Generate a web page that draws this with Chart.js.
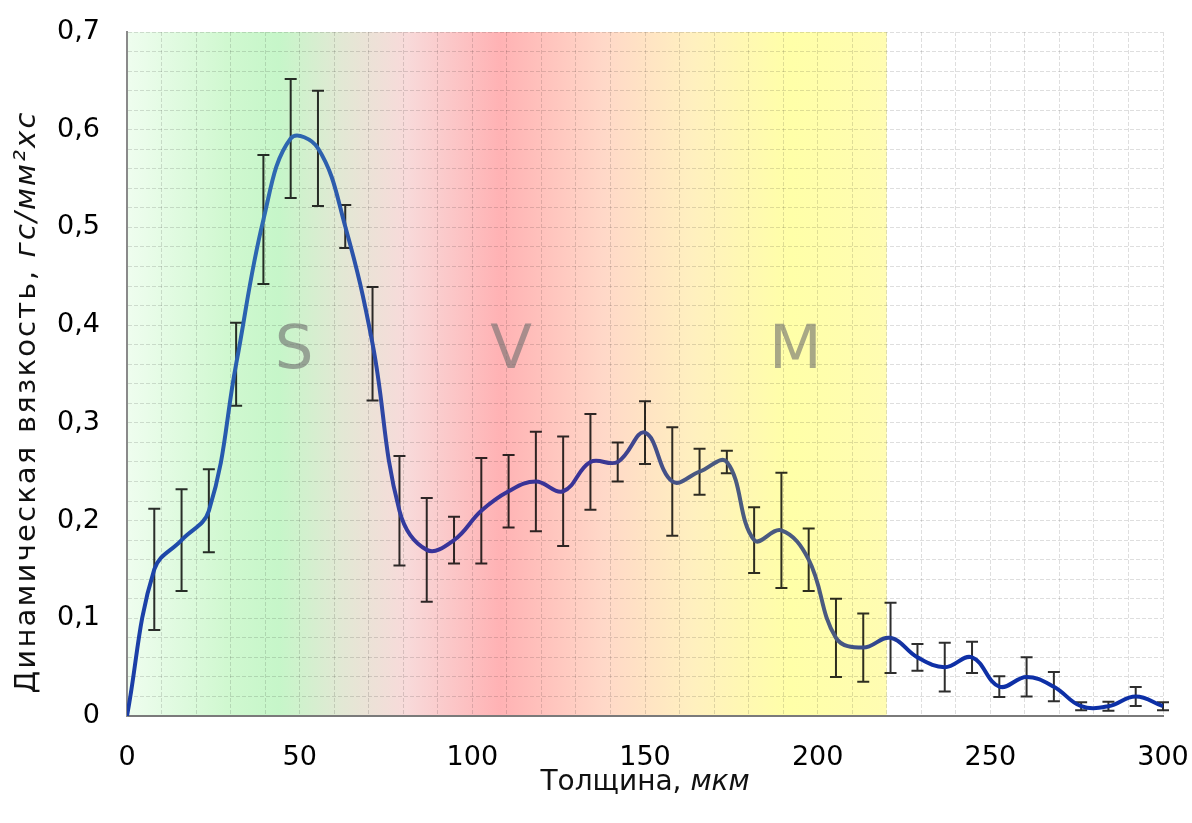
<!DOCTYPE html>
<html lang="ru">
<head>
<meta charset="utf-8">
<title>Динамическая вязкость</title>
<script src="https://cdn.jsdelivr.net/npm/chart.js@4.4.1/dist/chart.umd.min.js"></script>
<style>
  html, body { margin: 0; padding: 0; background: #fff; }
  #wrap { width: 1192px; height: 823px; }
</style>
</head>
<body>
<div id="wrap"><canvas id="chart"></canvas></div>
<script>
// Толщина, мкм
const thickness = [0, 7.9, 15.8, 23.7, 31.6, 39.5, 47.4, 55.3, 63.2, 71.1,
  78.9, 86.8, 94.7, 102.6, 110.5, 118.4, 126.3, 134.2, 142.1, 150,
  157.9, 165.8, 173.7, 181.6, 189.5, 197.4, 205.3, 213.2, 221.1, 228.9,
  236.8, 244.7, 252.6, 260.5, 268.4, 276.3, 284.2, 292.1, 300];

// Динамическая вязкость, гс/мм²хс
const viscosity = [0, 0.15, 0.18, 0.21, 0.36, 0.508, 0.591, 0.581, 0.501, 0.381,
  0.21, 0.17, 0.18, 0.21, 0.23, 0.24, 0.23, 0.26, 0.26, 0.29,
  0.24, 0.25, 0.26, 0.18, 0.19, 0.16, 0.08, 0.07, 0.08, 0.06,
  0.05, 0.06, 0.03, 0.04, 0.03, 0.01, 0.01, 0.02, 0.01];

// погрешность (±)
const viscosityErr = [0, 0.062, 0.052, 0.0425, 0.0425, 0.066, 0.061, 0.059, 0.022, 0.058,
  0.056, 0.053, 0.024, 0.054, 0.037, 0.051, 0.056, 0.049, 0.02, 0.032,
  0.0555, 0.0236, 0.0115, 0.0336, 0.059, 0.032, 0.04, 0.035, 0.036, 0.0137,
  0.025, 0.016, 0.0106, 0.02, 0.015, 0.004, 0.0046, 0.0097, 0.004];

const xTicks = [0, 50, 100, 150, 200, 250, 300];
const yTicks = [0, 0.1, 0.2, 0.3, 0.4, 0.5, 0.6, 0.7];

// зоны S / V / M
const zoneLabels = ["S", "V", "M"];
const zoneX = [48.4, 111.2, 193.5];
const zoneY = 0.372;

// фон: цветовые остановки по толщине (до 220 мкм)
const bgStops = [
  [0, "#effdef"], [29, "#d0f8d0"], [44, "#c6f6c9"], [62, "#e2e8d4"],
  [81, "#f8dada"], [108, "#ffb2b4"], [138, "#ffd8c8"], [164, "#fff0bf"],
  [192, "#ffffa8"], [220, "#fffcb2"]
];

// цвет кривой вдоль оси X
const lineStops = [
  [0, "#1a3ca6"], [22, "#2252ac"], [40, "#2f6ab2"], [56, "#2d62ae"],
  [70, "#2a4ca8"], [85, "#38349a"], [135, "#3a3396"], [152, "#424e8a"],
  [168, "#4a5a80"], [205, "#4a5a80"], [216, "#34498e"], [226, "#0f30a6"],
  [300, "#0c2fa6"]
];

const FONT = "'DejaVu Sans', Verdana, sans-serif";

function xGradient(ctx, x, stops) {
  const x0 = x.getPixelForValue(stops[0][0]);
  const x1 = x.getPixelForValue(stops[stops.length - 1][0]);
  const grad = ctx.createLinearGradient(x0, 0, x1, 0);
  stops.forEach(([v, c]) => grad.addColorStop((x.getPixelForValue(v) - x0) / (x1 - x0), c));
  return grad;
}

// Фон зон
const zoneBackground = {
  id: "zoneBackground",
  beforeDraw(chart) {
    const { ctx, chartArea: a, scales: { x } } = chart;
    const x0 = x.getPixelForValue(bgStops[0][0]);
    const x1 = x.getPixelForValue(bgStops[bgStops.length - 1][0]);
    ctx.save();
    ctx.fillStyle = xGradient(ctx, x, bgStops);
    ctx.fillRect(x0, a.top, x1 - x0, a.bottom - a.top);
    ctx.restore();
  }
};

// Погрешности и буквы зон
const errorBars = {
  id: "errorBars",
  beforeDatasetsDraw(chart) {
    const { ctx, scales: { x, y } } = chart;
    ctx.save();

    // буквы
    ctx.font = "61px " + FONT;
    ctx.fillStyle = "rgba(110,110,110,0.6)";
    ctx.textAlign = "center";
    ctx.textBaseline = "middle";
    zoneLabels.forEach((t, i) => ctx.fillText(t, x.getPixelForValue(zoneX[i]), y.getPixelForValue(zoneY)));

    // усы
    ctx.strokeStyle = "rgba(0,0,0,0.82)";
    ctx.lineWidth = 2;
    const cap = 6;
    thickness.forEach((t, i) => {
      const e = viscosityErr[i];
      if (!e) return;
      const px = x.getPixelForValue(t);
      const top = y.getPixelForValue(viscosity[i] + e);
      const bot = y.getPixelForValue(viscosity[i] - e);
      ctx.beginPath();
      ctx.moveTo(px, top); ctx.lineTo(px, bot);
      ctx.moveTo(px - cap, top); ctx.lineTo(px + cap, top);
      ctx.moveTo(px - cap, bot); ctx.lineTo(px + cap, bot);
      ctx.stroke();
    });
    ctx.restore();
  }
};

// Подписи осей (обычный + курсив)
function drawMixed(ctx, parts, cx, cy) {
  let total = 0;
  parts.forEach(p => { ctx.font = p.font; p.w = ctx.measureText(p.text).width; total += p.w; });
  let cur = cx - total / 2;
  parts.forEach(p => { ctx.font = p.font; ctx.fillText(p.text, cur, cy); cur += p.w; });
}

const axisTitles = {
  id: "axisTitles",
  afterDraw(chart) {
    const { ctx, chartArea: a } = chart;
    ctx.save();
    ctx.fillStyle = "#111";
    ctx.textAlign = "left";
    ctx.textBaseline = "alphabetic";
    drawMixed(ctx, [
      { text: "Толщина, ", font: "28px " + FONT },
      { text: "мкм", font: "italic 28px " + FONT }
    ], (a.left + a.right) / 2, 790);

    ctx.translate(35, 402);
    ctx.rotate(-Math.PI / 2);
    ctx.letterSpacing = "2.2px";
    drawMixed(ctx, [
      { text: "Динамическая вязкость, ", font: "29px " + FONT },
      { text: "гс/мм²хс", font: "italic 29px " + FONT }
    ], 0, 0);
    ctx.restore();
  }
};

const gridStyle = {
  color: "rgba(0,0,0,0.13)",
  lineWidth: 1,
  drawTicks: false
};

new Chart(document.getElementById("chart"), {
  type: "line",
  data: {
    datasets: [{
      data: thickness.map((t, i) => ({ x: t, y: viscosity[i] })),
      borderColor: c => c.chart.chartArea ? xGradient(c.chart.ctx, c.chart.scales.x, lineStops) : "#1a3ca6",
      borderWidth: 4,
      pointRadius: 0,
      tension: 0.4,
      fill: false
    }]
  },
  options: {
    responsive: true,
    maintainAspectRatio: false,
    animation: false,
    layout: { padding: { top: 32, right: 29, left: 0, bottom: 0 } },
    plugins: {
      legend: { display: false },
      tooltip: { enabled: false }
    },
    scales: {
      x: {
        type: "linear",
        min: 0,
        max: 300,
        afterFit: s => { s.height = 107; s.paddingLeft = 0; s.paddingRight = 0; },
        ticks: {
          stepSize: 10,
          autoSkip: false,
          maxRotation: 0,
          padding: 26,
          color: "#000",
          font: { family: FONT, size: 27 },
          callback: v => xTicks.includes(v) ? String(v) : ""
        },
        grid: gridStyle,
        border: { color: "#7a7a7a", width: 2, dash: [4, 2] }
      },
      y: {
        min: 0,
        max: 0.7,
        afterFit: s => { s.width = 127; s.paddingTop = 0; s.paddingBottom = 0; },
        ticks: {
          stepSize: 0.02,
          autoSkip: false,
          padding: 27,
          color: "#000",
          font: { family: FONT, size: 27 },
          callback: v => {
            const t = yTicks.find(k => Math.abs(k - v) < 1e-6);
            return t === undefined ? "" : (t === 0 ? "0" : t.toFixed(1).replace(".", ","));
          }
        },
        grid: gridStyle,
        border: { color: "#8a8a8a", width: 2, dash: [4, 2] }
      }
    }
  },
  plugins: [zoneBackground, errorBars, axisTitles]
});
</script>
</body>
</html>
